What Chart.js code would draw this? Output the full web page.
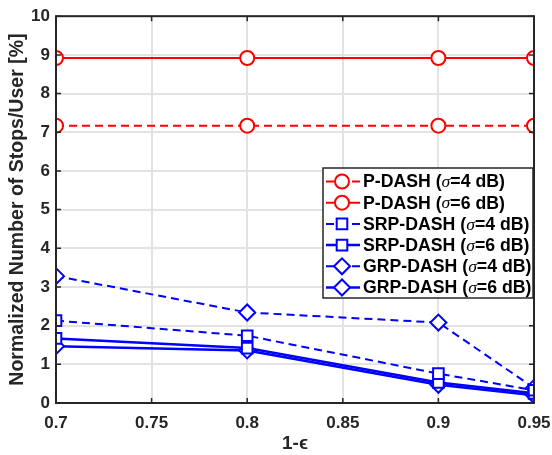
<!DOCTYPE html>
<html>
<head>
<meta charset="utf-8">
<script src="https://cdn.jsdelivr.net/npm/chart.js@4.4.0/dist/chart.umd.min.js"></script>
<style>
  html, body { margin: 0; padding: 0; background: #fff; }
</style>
</head>
<body>
<canvas id="myChart" width="552" height="455"></canvas>
<script>
const xValues = [0.7, 0.8, 0.9, 0.95];
const xTicks = [0.7, 0.75, 0.8, 0.85, 0.9, 0.95];
const yTicks = [0, 1, 2, 3, 4, 5, 6, 7, 8, 9, 10];

const pDash4 = [7.17, 7.17, 7.17, 7.17];
const pDash6 = [8.92, 8.92, 8.92, 8.92];
const srpDash4 = [2.13, 1.74, 0.76, 0.33];
const srpDash6 = [1.67, 1.42, 0.53, 0.25];
const grpDash4 = [3.28, 2.34, 2.08, 0.39];
const grpDash6 = [1.47, 1.36, 0.47, 0.2];

const schemes = ['P-DASH', 'P-DASH', 'SRP-DASH', 'SRP-DASH', 'GRP-DASH', 'GRP-DASH'];
const sigmas = ['4', '6', '4', '6', '4', '6'];

const RED = '#ff0000';
const BLUE = '#0000ff';
const AXIS = '#262626';
const SANS = '"Liberation Sans", Arial, sans-serif';

function makeSet(values, i, color, style, dashed, radius, width) {
  return {
    label: schemes[i] + ' (σ=' + sigmas[i] + ' dB)',
    data: values.map((v, k) => ({ x: xValues[k], y: v })),
    borderColor: color,
    backgroundColor: '#ffffff',
    borderWidth: width,
    borderDash: dashed ? [8, 5] : [],
    pointStyle: style,
    pointRadius: radius,
    pointBorderWidth: 2,
    pointBorderColor: color,
    pointBackgroundColor: '#ffffff',
    tension: 0
  };
}

const datasets = [
  makeSet(pDash4, 0, RED, 'circle', true, 7, 2),
  makeSet(pDash6, 1, RED, 'circle', false, 7, 2),
  makeSet(srpDash4, 2, BLUE, 'rect', true, 7.5, 2),
  makeSet(srpDash6, 3, BLUE, 'rect', false, 7.5, 2.5),
  makeSet(grpDash4, 4, BLUE, 'rectRot', true, 8, 2),
  makeSet(grpDash6, 5, BLUE, 'rectRot', false, 8, 2.5)
];

// box around the axes with inward tick marks
const axesBox = {
  id: 'axesBox',
  afterDatasetsDraw(chart) {
    const { ctx, chartArea: a, scales } = chart;
    ctx.save();
    ctx.strokeStyle = AXIS;
    ctx.lineWidth = 1.5;
    ctx.beginPath();
    xTicks.forEach(t => {
      const px = scales.x.getPixelForValue(t);
      ctx.moveTo(px, a.bottom); ctx.lineTo(px, a.bottom - 5);
      ctx.moveTo(px, a.top); ctx.lineTo(px, a.top + 5);
    });
    yTicks.forEach(t => {
      const py = scales.y.getPixelForValue(t);
      ctx.moveTo(a.left, py); ctx.lineTo(a.left + 5, py);
      ctx.moveTo(a.right, py); ctx.lineTo(a.right - 5, py);
    });
    ctx.stroke();
    ctx.lineWidth = 2;
    ctx.strokeRect(a.left, a.top, a.right - a.left, a.bottom - a.top);
    ctx.restore();
  }
};

// legend box in the upper right of the plot
const boxLegend = {
  id: 'boxLegend',
  afterDraw(chart) {
    const { ctx, chartArea: a } = chart;
    const bx = 323, by = 168, bw = a.right - 1 - 323, bh = 130;
    const rowH = 21.2;
    ctx.save();
    ctx.fillStyle = '#ffffff';
    ctx.fillRect(bx, by, bw, bh);
    ctx.strokeStyle = AXIS;
    ctx.lineWidth = 1.5;
    ctx.strokeRect(bx, by, bw, bh);
    chart.data.datasets.forEach((ds, i) => {
      const cy = by + 13.5 + i * rowH;
      ctx.strokeStyle = ds.borderColor;
      ctx.lineWidth = ds.borderWidth;
      ctx.setLineDash(ds.borderDash);
      ctx.beginPath();
      ctx.moveTo(bx + 3, cy);
      ctx.lineTo(bx + 37, cy);
      ctx.stroke();
      ctx.setLineDash([]);
      ctx.fillStyle = '#ffffff';
      ctx.lineWidth = 2;
      Chart.helpers.drawPoint(ctx, {
        pointStyle: ds.pointStyle,
        radius: ds.pointRadius,
        rotation: 0,
        borderWidth: 2
      }, bx + 19, cy);

      let tx = bx + 40;
      ctx.fillStyle = '#000000';
      ctx.textBaseline = 'middle';
      ctx.textAlign = 'left';
      const parts = [
        ['bold 17.7px ' + SANS, schemes[i] + ' ('],
        ['italic 17.7px "Liberation Serif", serif', 'σ'],
        ['bold 17.7px ' + SANS, '=' + sigmas[i] + ' dB)']
      ];
      parts.forEach(([font, text]) => {
        ctx.font = font;
        ctx.fillText(text, tx, cy + 1);
        tx += ctx.measureText(text).width;
      });
    });
    ctx.restore();
  }
};

new Chart(document.getElementById('myChart').getContext('2d'), {
  type: 'line',
  data: { datasets },
  options: {
    responsive: false,
    animation: false,
    layout: { padding: { left: 0, right: 18, top: 12, bottom: 0 } },
    plugins: { legend: { display: false }, tooltip: { enabled: false } },
    scales: {
      x: {
        type: 'linear',
        min: 0.7,
        max: 0.95,
        afterBuildTicks(scale) { scale.ticks = xTicks.map(v => ({ value: v })); },
        afterFit(scale) { scale.height = 52; scale.paddingLeft = 0; scale.paddingRight = 0; },
        grid: { color: '#e3e3e3', lineWidth: 2, drawTicks: false },
        border: { display: false },
        ticks: {
          padding: 10,
          maxRotation: 0,
          autoSkip: false,
          color: AXIS,
          font: { family: SANS, size: 17, weight: 'bold' },
          callback: v => String(v)
        },
        title: {
          display: true,
          text: '1-ϵ',
          color: AXIS,
          padding: { top: 0, bottom: 0 },
          font: { family: SANS, size: 19, weight: 'bold' }
        }
      },
      y: {
        min: 0,
        max: 10,
        afterBuildTicks(scale) { scale.ticks = yTicks.map(v => ({ value: v })); },
        afterFit(scale) { scale.width = 56; },
        grid: { color: '#e3e3e3', lineWidth: 2, drawTicks: false },
        border: { display: false },
        ticks: {
          padding: 6,
          color: AXIS,
          font: { family: SANS, size: 17, weight: 'bold' }
        },
        title: {
          display: true,
          text: 'Normalized Number of Stops/User [%]',
          color: AXIS,
          padding: { top: 6, bottom: 0 },
          font: { family: SANS, size: 19.5, weight: 'bold' }
        }
      }
    }
  },
  plugins: [axesBox, boxLegend]
});
</script>
</body>
</html>
